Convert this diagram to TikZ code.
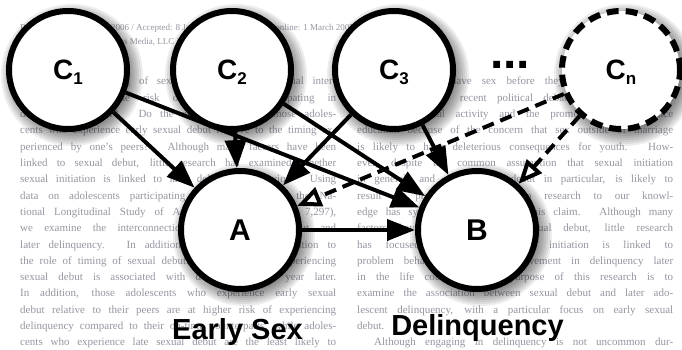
\documentclass[tikz,border=0pt]{standalone}
\usepackage{fontspec}
\setmainfont{Liberation Serif}
\newfontfamily\labelfont{Liberation Sans}
\usetikzlibrary{arrows.meta}

\definecolor{pagetext}{RGB}{150,150,162}

\newcommand\varsub[1]{\smash{\raisebox{-5pt}{\fontsize{17}{17}\selectfont #1}}}

\pgfdeclarelayer{page}
\pgfdeclarelayer{shade}
\pgfdeclarelayer{edges}
\pgfsetlayers{page,shade,edges,main}

\tikzset{
  var/.style={circle, draw=black, fill=white, line width=6pt,
    minimum size=118pt, inner sep=0pt,
    font=\labelfont\bfseries\fontsize{28}{28}\selectfont},
  hidden/.style={var, dash pattern=on 12pt off 7pt},
  outcome/.style={var, font=\labelfont\bfseries\fontsize{30}{30}\selectfont},
  cause/.style={line width=4pt, -{Triangle[length=28pt, width=21pt]}},
  latent/.style={line width=4pt, dash pattern=on 12pt off 7pt,
    -{Triangle[open, fill=white, length=24pt, width=20pt, line width=4pt]}},
  caption/.style={font=\labelfont\bfseries\fontsize{29}{29}\selectfont,
    anchor=base, inner sep=0pt},
  bgtext/.style={text=pagetext, font=\fontsize{11}{13}\selectfont,
    anchor=base west, inner sep=0pt},
  headtext/.style={bgtext, font=\fontsize{9}{11}\selectfont},
  shadowring/.style={fill=black, fill opacity=0.07, draw=none},
}

\begin{document}
\begin{tikzpicture}[x=1pt, y=-1pt]
  \useasboundingbox (0,0) rectangle (682,350);

  % printed page behind the diagram
  \begin{pgfonlayer}{page}
    \fill[white] (0,0) rectangle (682,350);
    \node[headtext] (head1) at (20,31)
      {Received: 21 September 2006 / Accepted: 8 January 2007 / Published online: 1 March 2007};
    \node[headtext] (head2) at (20,45)
      {\textcopyright{} Springer Science+Business Media, LLC 2007};
    \foreach \txt [count=\i from 0] in {
      {How does the timing of sexual debut, or first sexual inter-},
      {course, increase the risk of adolescents participating in},
      {delinquent behavior? Do the effects differ for those adoles-},
      {cents who experience early sexual debut relative to the timing ex-},
      {perienced by one's peers? Although many factors have been},
      {linked to sexual debut, little research has examined whether},
      {sexual initiation is linked to later delinquent behavior. Using},
      {data on adolescents participating in two waves of the Na-},
      {tional Longitudinal Study of Adolescent Health (N = 7,297),},
      {we examine the interconnection between sexual debut and},
      {later delinquency. In addition, we pay special attention to},
      {the role of timing of sexual debut. Results suggest experiencing},
      {sexual debut is associated with delinquency one year later.},
      {In addition, those adolescents who experience early sexual},
      {debut relative to their peers are at higher risk of experiencing},
      {delinquency compared to their on-time counterparts, while adoles-},
      {cents who experience late sexual debut are the least likely to}}
      \node[bgtext] (left\i) at (20,85+16.3*\i) {\makebox[316pt][s]{\txt}};
    \foreach \txt [count=\i from 0] in {
      {Most adolescents have sex before they graduate from high},
      {school. Indeed, recent political debates have focused on},
      {postponing sexual activity and the promotion of abstinence},
      {education because of the concern that sex outside of marriage},
      {is likely to have deleterious consequences for youth. How-},
      {ever, despite the common assumption that sexual initiation},
      {in general, and early sexual debut in particular, is likely to},
      {result in problem behavior, no research to our knowl-},
      {edge has systematically examined this claim. Although many},
      {factors have been linked to sexual debut, little research},
      {has focused on whether sexual initiation is linked to},
      {problem behavior, such as involvement in delinquency later},
      {in the life course. The purpose of this research is to},
      {examine the association between sexual debut and later ado-},
      {lescent delinquency, with a particular focus on early sexual},
      {debut.\hfill},
      {\hspace*{17pt}Although engaging in delinquency is not uncommon dur-}}
      \node[bgtext] (right\i) at (357,85+16.3*\i) {\makebox[316pt][s]{\txt}};
  \end{pgfonlayer}

  % variables
  \node[var] (c1) at (68,70) {C\varsub{1}};
  \node[var] (c2) at (232,70) {C\varsub{2}};
  \node[var] (c3) at (394,70) {C\varsub{3}};
  \node[hidden] (cn) at (621,70) {C\varsub{n}};
  \node[outcome] (a) at (240,230) {A};
  \node[outcome] (b) at (477,230) {B};

  \node[font=\labelfont\bfseries\fontsize{48}{48}\selectfont, inner sep=0pt]
    (dots) at (510,64.5) {...};

  \node[caption] (early) at (237.5,339) {Early Sex};
  \node[caption] (delinq) at (477.5,335) {Delinquency};

  % soft drop shadows under the circles
  \begin{pgfonlayer}{shade}
    \foreach \n in {c1,c2,c3,cn,a,b}
      \foreach \r in {71,69,67,65,63,61,59,57,55}
        \fill[shadowring] ([shift={(4,5)}]\n.center) circle (\r);
  \end{pgfonlayer}

  % causal paths
  \begin{pgfonlayer}{edges}
    \draw[cause] (c1) -- (a);
    \draw[cause] (c1) -- (b);
    \draw[cause] (c2) -- (a);
    \draw[cause] (c2) -- (b);
    \draw[cause] (c3) -- (a);
    \draw[cause] (c3) -- (b);
    \draw[latent] (cn) -- (a);
    \draw[latent] (cn) -- (b);
    \draw[cause] (a) -- (b);
  \end{pgfonlayer}
\end{tikzpicture}
\end{document}
